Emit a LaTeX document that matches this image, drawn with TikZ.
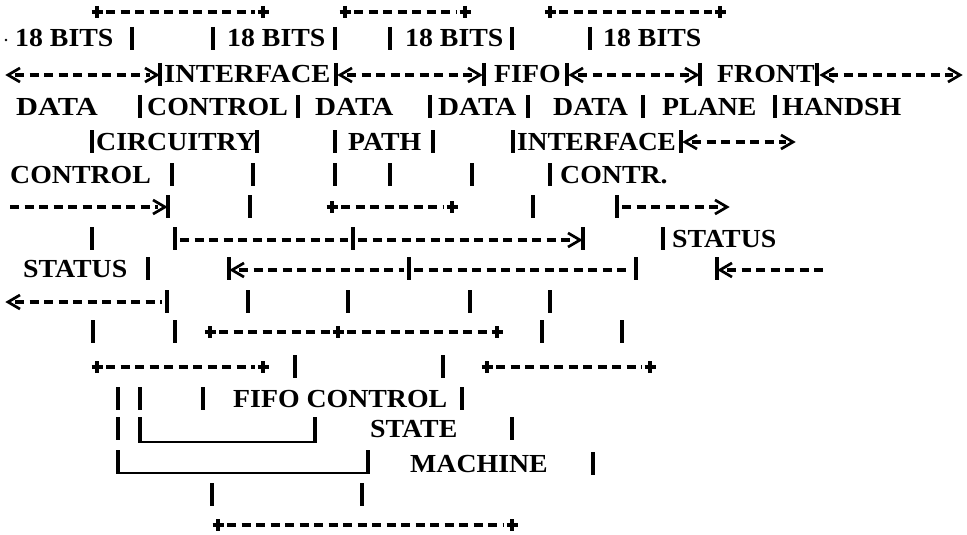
\documentclass[tikz,border=0pt]{standalone}
\usepackage{fontspec}
\usepackage{graphicx}
\newfontfamily\asfont{Liberation Serif}
\tikzset{
  barst/.style={line width=3.1pt},
  dashst/.style={line width=3.1pt, dash pattern=on 9pt off 5.5pt},
  chevst/.style={line width=2.7pt, line join=miter},
  plusst/.style={line width=3.1pt},
  ulst/.style={line width=1.7pt},
  wordst/.style={anchor=base west, inner sep=0pt, font=\asfont\bfseries\fontsize{26}{30}\selectfont}
}
\newcommand\AsBar[2]{\draw[barst] (#1,#2-20) -- (#1,#2+3);}
\newcommand\AsDash[3]{\draw[dashst] (#1,#3) -- (#2,#3);}
\newcommand\AsLt[2]{\draw[chevst] (#1+12,#2-7) -- (#1,#2) -- (#1+12,#2+7);}
\newcommand\AsGt[2]{\draw[chevst] (#1-12,#2-7) -- (#1,#2) -- (#1-12,#2+7);}
\newcommand\AsPlus[2]{\draw[plusst] (#1-5.5,#2) -- (#1+5.5,#2) (#1,#2-6) -- (#1,#2+6);}
\newcommand\AsWord[4]{\node[wordst] (#1) at (#2,#3) {\scalebox{1.07}[1]{#4}};}
\newcommand\AsWordS[5]{\node[wordst] (#1) at (#2,#3) {\scalebox{#4}[1]{#5}};}
\begin{document}
\begin{tikzpicture}[x=1pt,y=-1pt]
\fill[white] (0,0) rectangle (967,535);
\useasboundingbox (0,0) rectangle (967,535);
% line 1
\AsPlus{97}{12}\AsDash{106}{255}{12}\AsPlus{263}{12}
\AsPlus{345}{12}\AsDash{354}{457}{12}\AsPlus{465}{12}
\AsPlus{550}{12}\AsDash{559}{712}{12}\AsPlus{720}{12}
% line 2
\fill (6,40) circle (1.3);
\AsWord{b1}{15}{47}{18 BITS}\AsBar{132}{47}
\AsBar{213}{47}\AsWord{b2}{227}{47}{18 BITS}\AsBar{335}{47}
\AsBar{390}{47}\AsWord{b3}{405}{47}{18 BITS}\AsBar{512}{47}
\AsBar{590}{47}\AsWord{b4}{603}{47}{18 BITS}
% line 3
\AsLt{8}{75}\AsDash{15}{150}{75}\AsGt{157}{75}\AsBar{160}{83}
\AsWordS{ifc}{164}{83}{1.1}{INTERFACE}\AsBar{336}{83}
\AsLt{340}{75}\AsDash{347}{473}{75}\AsGt{480}{75}\AsBar{484}{83}
\AsWord{fifo}{494}{83}{FIFO}\AsBar{567}{83}
\AsLt{571}{75}\AsDash{578}{690}{75}\AsGt{697}{75}\AsBar{700}{83}
\AsWord{front}{717}{83}{FRONT}\AsBar{817}{83}
\AsLt{822}{75}\AsDash{829}{953}{75}\AsGt{960}{75}
% line 4
\AsWordS{d1}{16}{115}{1.17}{DATA}\AsBar{140}{115}
\AsWord{ctl}{147}{115}{CONTROL}\AsBar{298}{115}
\AsWordS{d2}{315}{115}{1.12}{DATA}\AsBar{430}{115}
\AsWordS{d3}{438}{115}{1.12}{DATA}\AsBar{528}{115}
\AsWordS{d4}{553}{115}{1.07}{DATA}\AsBar{643}{115}
\AsWord{plane}{662}{115}{PLANE}\AsBar{775}{115}
\AsWord{hand}{782}{115}{HANDSH}
% line 5
\AsBar{92}{150}\AsWord{circ}{96}{150}{CIRCUITRY}\AsBar{257}{150}
\AsBar{335}{150}\AsWord{path}{348}{150}{PATH}\AsBar{433}{150}
\AsBar{513}{150}\AsWordS{ifc2}{517}{150}{1.05}{INTERFACE}\AsBar{681}{150}
\AsLt{685}{142}\AsDash{692}{786}{142}\AsGt{793}{142}
% line 6
\AsWord{ctl2}{10}{183}{CONTROL}\AsBar{172}{183}
\AsBar{253}{183}\AsBar{335}{183}\AsBar{390}{183}\AsBar{472}{183}
\AsBar{550}{183}\AsWord{contr}{560}{183}{CONTR.}
% line 7
\AsDash{10}{158}{207}\AsGt{165}{207}\AsBar{168}{215}
\AsBar{250}{215}
\AsPlus{332}{207}\AsDash{341}{444}{207}\AsPlus{452}{207}
\AsBar{533}{215}
\AsBar{617}{215}\AsDash{622}{720}{207}\AsGt{727}{207}
% line 8
\AsBar{92}{247}
\AsBar{175}{247}\AsDash{180}{348}{240}\AsBar{353}{247}
\AsDash{358}{573}{240}\AsGt{580}{240}\AsBar{583}{247}
\AsBar{663}{247}\AsWord{stat1}{672}{247}{STATUS}
% line 9
\AsWord{stat2}{23}{277}{STATUS}\AsBar{148}{277}
\AsBar{229}{277}\AsLt{232}{270}\AsDash{239}{404}{270}\AsBar{409}{277}
\AsDash{414}{631}{270}\AsBar{636}{277}
\AsBar{717}{277}\AsLt{720}{270}\AsDash{727}{828}{270}
% line 10
\AsLt{8}{302}\AsDash{15}{162}{302}\AsBar{167}{310}
\AsBar{248}{310}\AsBar{348}{310}\AsBar{470}{310}\AsBar{550}{310}
% line 11
\AsBar{93}{340}\AsBar{175}{340}
\AsPlus{210}{332}\AsDash{219}{330}{332}\AsPlus{338}{332}
\AsDash{347}{489}{332}\AsPlus{497}{332}
\AsBar{542}{340}\AsBar{622}{340}
% line 12
\AsPlus{97}{367}\AsDash{106}{255}{367}\AsPlus{263}{367}
\AsBar{295}{375}\AsBar{443}{375}
\AsPlus{487}{367}\AsDash{496}{642}{367}\AsPlus{650}{367}
% line 13
\AsBar{118}{407}\AsBar{140}{407}\AsBar{203}{407}
\AsWord{fc}{233}{407}{FIFO CONTROL}\AsBar{462}{407}
% line 14
\AsBar{118}{437}
\draw[barst] (140,417) -- (140,443);
\draw[barst] (315,417) -- (315,443);
\draw[ulst] (140,442) -- (315,442);
\AsWord{state}{370}{437}{STATE}\AsBar{512}{437}
% line 15
\draw[barst] (118,450) -- (118,474);
\draw[barst] (368,450) -- (368,474);
\draw[ulst] (118,473) -- (368,473);
\AsWord{mach}{410}{472}{MACHINE}\AsBar{593}{472}
% line 16
\AsBar{212}{503}\AsBar{362}{503}
% line 17
\AsPlus{218}{525}\AsDash{227}{504}{525}\AsPlus{512}{525}
\end{tikzpicture}
\end{document}
